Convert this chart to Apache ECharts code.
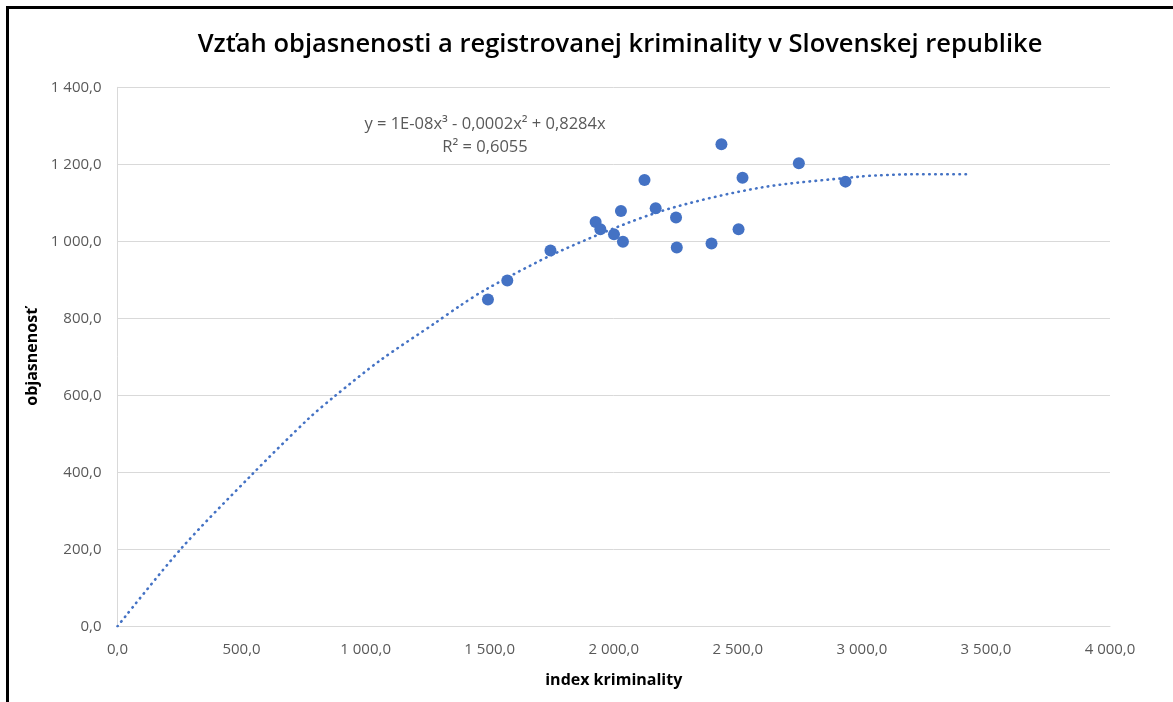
<!DOCTYPE html>
<html>
<head>
<meta charset="utf-8">
<script src="https://cdn.jsdelivr.net/npm/echarts@6/dist/echarts.min.js"></script>
<style>
html, body { margin: 0; padding: 0; background: #ffffff; }
#frame { position: absolute; left: 6px; top: 6px; width: 1167px; height: 696px; border-top: 3px solid #000; border-left: 3px solid #000; }
#chart { position: absolute; left: 0; top: 0; width: 1173px; height: 702px; }
</style>
</head>
<body>
<div id="frame"></div>
<div id="chart"></div>
<script>
// index kriminality (x) a objasnenosť (y) pre jednotlivé roky
var indexKriminality = [1493, 1571, 1745, 1927, 1946, 2001, 2037, 2029, 2124, 2169, 2251, 2254, 2394, 2434, 2503, 2519, 2746, 2934]
var objasnenost = [849, 898, 976, 1050, 1031, 1018, 999, 1079, 1159, 1086, 1062, 984, 994, 1252, 1031, 1165, 1203, 1155]

// polynomický trend odčítaný z grafu
var trendX = [0, 258, 540, 771, 876, 1057, 1285, 1379, 1487, 1782, 2185, 2588, 2990, 3057, 3205, 3430]
var trendY = [0, 203, 393, 540, 598, 690, 790, 832, 876, 974, 1077, 1139, 1168, 1171, 1174, 1174]

var xTicks = [0, 4000, 500]
var yTicks = [0, 1400, 200]

function fmt (v) {
    return v.toFixed(1).replace('.', ',').replace(/\B(?=(\d{3})+(?!\d))/g, ' ')
}

var points = indexKriminality.map(function (x, i) { return [x, objasnenost[i]] })
var trend = trendX.map(function (x, i) { return [x, trendY[i]] })

var chart = echarts.init(document.getElementById('chart'))
chart.setOption({
    animation: false,
    title: {
        text: 'Vzťah objasnenosti a registrovanej kriminality v Slovenskej republike',
        left: 615,
        textAlign: 'center',
        top: 27,
        textStyle: {
            fontFamily: 'Open Sans',
            fontSize: 25.5,
            fontWeight: 600,
            color: '#000000'
        }
    },
    grid: {
        left: 117.5,
        right: 63,
        top: 87.3,
        bottom: 75.7
    },
    xAxis: {
        type: 'value',
        min: xTicks[0],
        max: xTicks[1],
        interval: xTicks[2],
        name: 'index kriminality',
        nameLocation: 'middle',
        nameGap: 46,
        nameTextStyle: { fontFamily: 'Open Sans', fontSize: 16, fontWeight: 'bold', color: '#000' },
        axisLine: { show: true, lineStyle: { color: '#d9d9d9', width: 1 } },
        axisTick: { show: false },
        splitLine: { show: false },
        axisLabel: { formatter: fmt, margin: 16, fontFamily: 'Open Sans', fontSize: 15, color: '#595959' }
    },
    yAxis: {
        type: 'value',
        min: yTicks[0],
        max: yTicks[1],
        interval: yTicks[2],
        name: 'objasnenosť',
        nameLocation: 'middle',
        nameGap: 76,
        nameTextStyle: { fontFamily: 'Open Sans', fontSize: 16, fontWeight: 'bold', color: '#000' },
        axisLine: { show: true, lineStyle: { color: '#d9d9d9', width: 1 } },
        axisTick: { show: false },
        splitLine: { show: true, lineStyle: { color: '#d9d9d9', width: 1 } },
        axisLabel: { formatter: fmt, margin: 16, fontFamily: 'Open Sans', fontSize: 15, color: '#595959' }
    },
    graphic: [
        {
            type: 'text',
            x: 485,
            y: 116,
            style: {
                text: 'y = 1E-08x³ - 0,0002x² + 0,8284x',
                fontFamily: 'Open Sans',
                fontSize: 16.5,
                fill: '#595959',
                align: 'center'
            }
        },
        {
            type: 'text',
            x: 485,
            y: 139,
            style: {
                text: 'R² = 0,6055',
                fontFamily: 'Open Sans',
                fontSize: 16.5,
                fill: '#595959',
                align: 'center'
            }
        }
    ],
    series: [
        {
            name: 'trend',
            type: 'line',
            data: trend,
            smooth: 0.3,
            showSymbol: false,
            lineStyle: { color: '#4472c4', width: 2.6, type: [0.5, 5.5], cap: 'round' },
            z: 1
        },
        {
            name: 'objasnenosť',
            type: 'scatter',
            data: points,
            symbolSize: 12,
            itemStyle: { color: '#4472c4', opacity: 1 },
            z: 2
        }
    ]
})
</script>
</body>
</html>
